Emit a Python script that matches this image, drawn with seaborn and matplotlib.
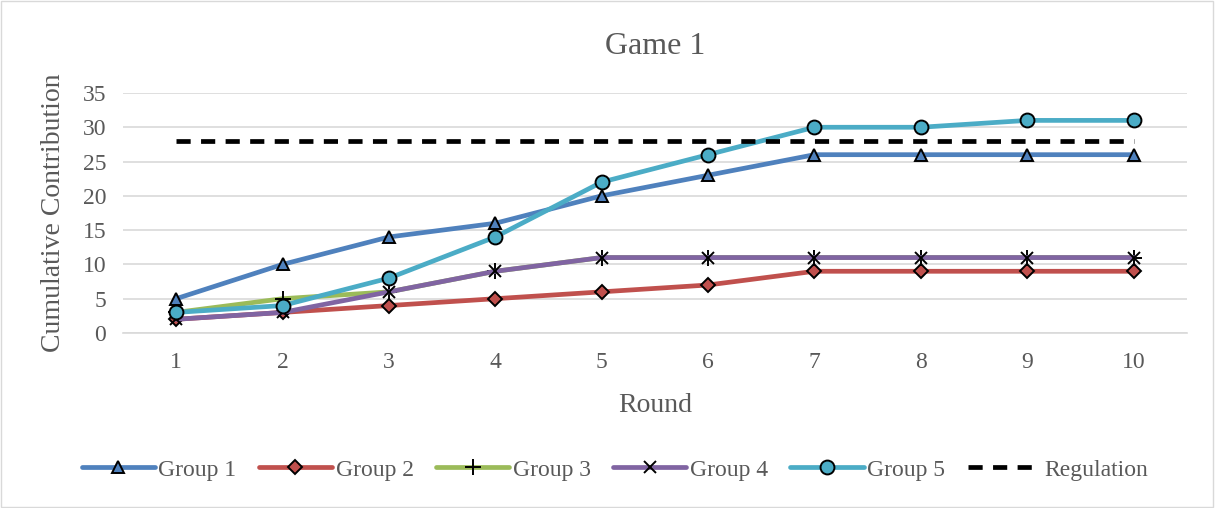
import matplotlib
matplotlib.use("Agg")
import matplotlib.pyplot as plt
import seaborn as sns
import pandas as pd

rounds = [1, 2, 3, 4, 5, 6, 7, 8, 9, 10]
group1 = [5, 10, 14, 16, 20, 23, 26, 26, 26, 26]
group2 = [2, 3, 4, 5, 6, 7, 9, 9, 9, 9]
group3 = [3, 5, 6, 9, 11, 11, 11, 11, 11, 11]
group4 = [2, 3, 6, 9, 11, 11, 11, 11, 11, 11]
group5 = [3, 4, 8, 14, 22, 26, 30, 30, 31, 31]
regulation = [28, 28, 28, 28, 28, 28, 28, 28, 28, 28]
y_ticks = [0, 5, 10, 15, 20, 25, 30, 35]

sns.set_theme(style="white")
plt.rcParams['font.family'] = ['Liberation Serif', 'DejaVu Serif']

fig = plt.figure(figsize=(12.15, 5.08), dpi=100)
ax = fig.add_axes([0.1012, 0.3445, 0.8756, 0.4725])

series = [
    ("Group 1", group1, "#4F81BD", "^", 9),
    ("Group 2", group2, "#C0504D", "D", 7),
    ("Group 3", group3, "#9BBB59", "+", 11),
    ("Group 4", group4, "#8064A2", "x", 9),
    ("Group 5", group5, "#4BACC6", "o", 10),
]
for name, vals, col, mk, ms in series:
    df = pd.DataFrame({"Round": rounds, "v": vals})
    sns.lineplot(data=df, x="Round", y="v", ax=ax, color=col, linewidth=3.4,
                 marker=mk, markersize=ms, markerfacecolor=col,
                 markeredgecolor="black", markeredgewidth=1.4, label=name,
                 solid_capstyle="round")
df = pd.DataFrame({"Round": rounds, "v": regulation})
sns.lineplot(data=df, x="Round", y="v", ax=ax, color="black", linewidth=3.4,
             linestyle=(0, (3, 2.2)), label="Regulation")

ax.set_xlim(0.5, 10.5)
ax.set_ylim(0, 35)
ax.set_yticks(y_ticks)
ax.set_xticks(rounds)
ax.yaxis.grid(True, color="#D9D9D9", linewidth=1.2)
ax.set_axisbelow(True)
for s in ["top", "right", "left"]:
    ax.spines[s].set_visible(False)
ax.spines["bottom"].set_color("#D9D9D9")
ax.spines["bottom"].set_linewidth(1.2)
ax.tick_params(axis="both", length=0, labelsize=17, colors="#595959")
ax.tick_params(axis="x", pad=14)
ax.tick_params(axis="y", pad=12)
ax.set_xlabel("Round", fontsize=20, color="#595959", labelpad=14)
ax.set_ylabel("Cumulative Contribution", fontsize=20, color="#595959", labelpad=12)
ax.set_title("Game 1", fontsize=23, color="#595959", pad=28)

handles, labels = ax.get_legend_handles_labels()
ax.get_legend().remove()
fig.legend(handles, labels, loc="center", bbox_to_anchor=(0.506, 0.075), ncol=6,
           frameon=False, fontsize=17, handlelength=3.1, columnspacing=0.95,
           handletextpad=0.15, labelcolor="#595959")

fig.patches.append(plt.Rectangle((0.001, 0.002), 0.997, 0.996, transform=fig.transFigure,
                                 fill=False, edgecolor="#D9D9D9", linewidth=1))
fig.savefig("out.png", dpi=100)
